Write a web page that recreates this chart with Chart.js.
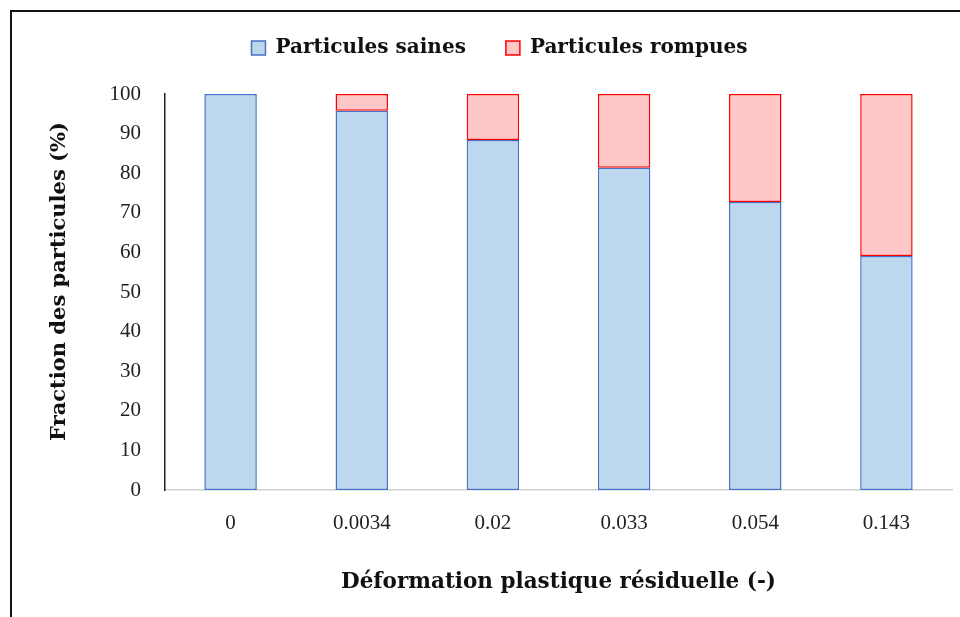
<!DOCTYPE html>
<html>
<head>
<meta charset="utf-8">
<script src="https://cdn.jsdelivr.net/npm/chart.js@4"></script>
<style>
  html, body { margin: 0; padding: 0; background: #fff; overflow: hidden; }
  #wrap { position: relative; width: 960px; height: 617px; overflow: hidden; }
  .edge { position: absolute; background: #111; }
  #chart { position: absolute; left: 0; top: 0; }
</style>
</head>
<body>
<div id="wrap">
  <div class="edge" style="left:10px; top:10px; width:950px; height:2px;"></div>
  <div class="edge" style="left:10px; top:10px; width:2px; height:607px;"></div>
  <canvas id="chart" width="960" height="617"></canvas>
</div>
<script>
// déformation plastique résiduelle (-)
const deformations = ['0', '0.0034', '0.02', '0.033', '0.054', '0.143'];
// fractions en %
const saines = [100, 95.8, 88.4, 81.4, 72.7, 59.1];
const rompues = [0, 4.2, 11.6, 18.6, 27.3, 40.9];

const serif = "'Liberation Serif', 'Times New Roman', serif";
const serifBold = "'DejaVu Serif', serif";
Chart.defaults.font.family = serif;
Chart.defaults.color = '#222';

// extra room under the legend, before the plot area
const legendSpacer = {
  id: 'legendSpacer',
  beforeInit(chart) {
    const fit = chart.legend.fit;
    chart.legend.fit = function () {
      fit.call(this);
      this.height += 26;
    };
  }
};

const ctx = document.getElementById('chart');
const chart = new Chart(ctx, {
  type: 'bar',
  data: {
    labels: deformations,
    datasets: [
      {
        label: 'Particules saines',
        data: saines,
        backgroundColor: '#BDD7EE',
        borderColor: '#4472C4',
        borderWidth: 1.5,
        borderSkipped: false,
        barPercentage: 0.4,
        categoryPercentage: 1
      },
      {
        label: 'Particules rompues',
        data: rompues,
        backgroundColor: '#FFC7C7',
        borderColor: '#FF0000',
        borderWidth: 1.5,
        borderSkipped: false,
        barPercentage: 0.4,
        categoryPercentage: 1
      }
    ]
  },
  options: {
    responsive: false,
    animation: false,
    layout: { padding: { left: 47, right: 8, top: -2, bottom: 22 } },
    plugins: {
      tooltip: { enabled: false },
      legend: {
        position: 'top',
        labels: {
          boxWidth: 14,
          boxHeight: 14,
          padding: 40,
          color: '#111',
          font: { family: serifBold, size: 20, weight: 'bold' }
        }
      }
    },
    scales: {
      x: {
        stacked: true,
        grid: { display: false, drawTicks: false },
        border: { display: true, color: '#D0D0D0', width: 1.5 },
        ticks: { padding: 21, color: '#222', font: { size: 21 } },
        title: {
          display: true,
          text: 'Déformation plastique résiduelle (-)',
          color: '#111',
          font: { family: serifBold, size: 21.5, weight: 'bold' },
          padding: { top: 12, bottom: 0 }
        }
      },
      y: {
        stacked: true,
        min: 0,
        max: 100,
        grid: { display: false, drawTicks: false },
        border: { display: true, color: '#222', width: 1.5 },
        ticks: { stepSize: 10, padding: 24, color: '#222', font: { size: 21 } },
        title: {
          display: true,
          text: '\u2003Fraction des particules (%)',
          color: '#111',
          font: { family: serifBold, size: 21, weight: 'bold' },
          padding: { top: 0, bottom: 20 }
        },
        afterFit: (scale) => { scale.width = 118; }
      }
    }
  },
  plugins: [legendSpacer]
});
</script>
</body>
</html>
